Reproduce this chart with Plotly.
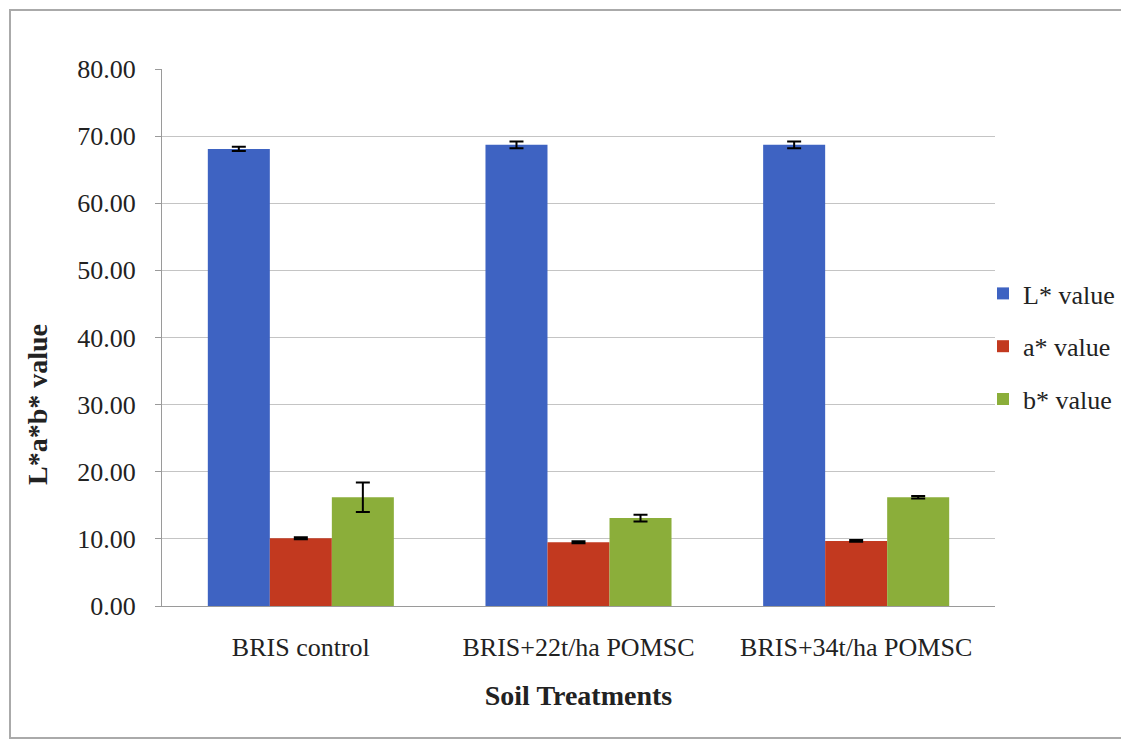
import plotly.graph_objects as go

categories = ["BRIS control", "BRIS+22t/ha POMSC", "BRIS+34t/ha POMSC"]
series_names = ["L* value", "a* value", "b* value"]
L_values = [68.1, 68.7, 68.7]
L_errors = [0.3, 0.5, 0.5]
a_values = [10.1, 9.5, 9.7]
a_errors = [0.15, 0.15, 0.12]
b_values = [16.2, 13.1, 16.2]
b_errors = [2.2, 0.5, 0.2]
colors = ["#3E63C2", "#C2391F", "#8BAE3A"]
y_ticks = [0, 10, 20, 30, 40, 50, 60, 70, 80]

W, H = 1121, 732
L, R, T, B = 154, 134, 61, 134
pw, ph = W - L - R, H - T - B

fig = go.Figure()
for i, (name, vals, errs, col) in enumerate(zip(series_names, [L_values, a_values, b_values],
                                 [L_errors, a_errors, b_errors], colors)):
    fig.add_trace(go.Bar(
        x=categories, y=vals, name=name, legendgroup=f"g{i}",
        marker=dict(color=col, line=dict(width=0)),
        error_y=dict(type="data", array=errs, color="black", thickness=2, width=7),
    ))

font_family = "Liberation Serif"
fs = 26
fig.update_layout(
    width=W, height=H,
    margin=dict(l=L, r=R, t=T, b=B, autoexpand=False),
    paper_bgcolor="white", plot_bgcolor="white",
    barmode="group", bargap=0.33, bargroupgap=0,
    font=dict(family=font_family, color="#222222", size=fs),
    showlegend=True,
    legend=dict(x=(983 - 8 - L) / pw, y=(606 - 270) / ph, xanchor="left", yanchor="top",
                font=dict(family=font_family, size=fs, color="#222222"),
                itemwidth=30, tracegroupgap=16, traceorder="grouped",
                bgcolor="rgba(0,0,0,0)"),
    xaxis=dict(showline=True, linecolor="#9A9A9A", linewidth=1, ticks="",
               tickfont=dict(size=fs), ticklabelstandoff=18,
               title=dict(text="<b>Soil Treatments</b>", font=dict(size=28), standoff=24)),
    yaxis=dict(range=[0, 80], tickvals=y_ticks, tickformat=".2f",
               showgrid=True, gridcolor="#C4C4C4", gridwidth=1,
               showline=True, linecolor="#9A9A9A", linewidth=1,
               ticks="outside", ticklen=6, tickcolor="#9A9A9A",
               tickfont=dict(size=fs), ticklabelstandoff=14, zeroline=False),
    annotations=[dict(text="<b>L*a*b* value</b>", textangle=-90, showarrow=False,
                      xref="paper", yref="paper", x=(29 - L) / pw, y=(598 - 397) / ph,
                      xanchor="center", yanchor="middle",
                      font=dict(family=font_family, size=28, color="#222222"))],
    shapes=[dict(type="rect", xref="paper", yref="paper",
                 x0=(2 - L) / pw, x1=(1119 - L) / pw,
                 y0=(H - B - 730) / ph, y1=(H - B - 2) / ph,
                 line=dict(color="#AAAAAA", width=2), fillcolor="rgba(0,0,0,0)", layer="below")],
)
fig.write_html("out.html")
